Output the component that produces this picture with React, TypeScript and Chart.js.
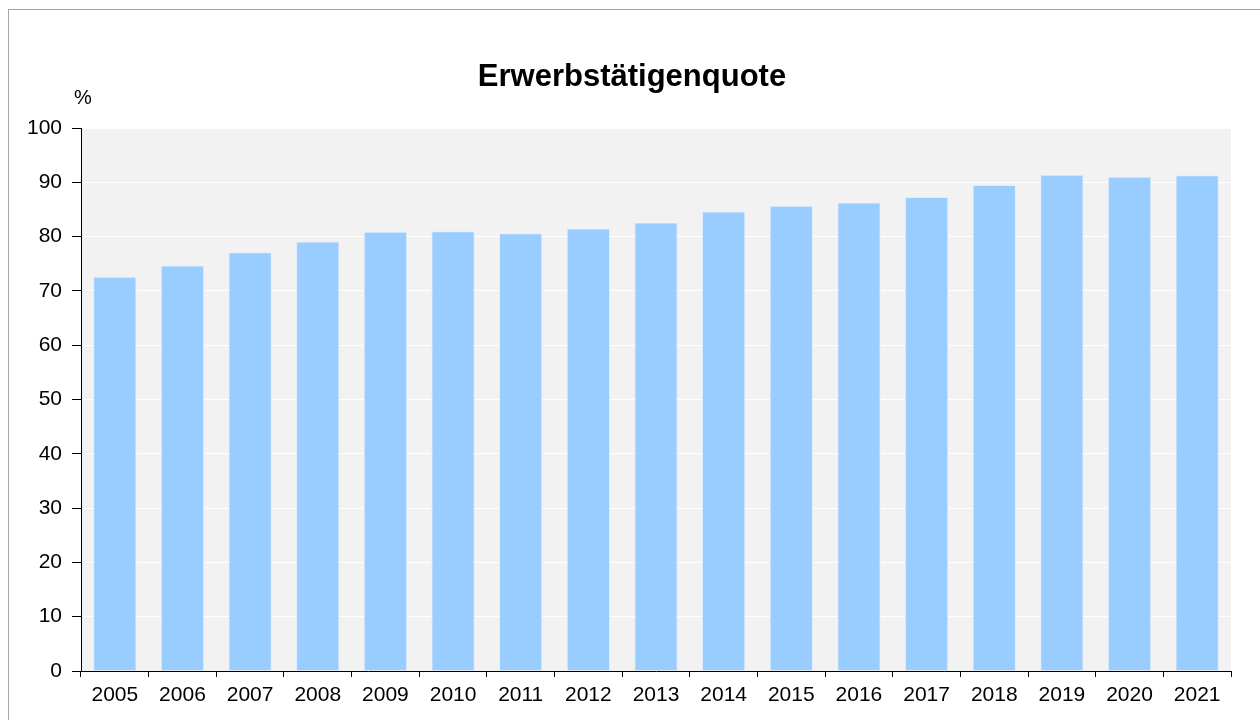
import React, { useEffect, useRef } from "react";
import { Chart, registerables } from "chart.js";

Chart.register(...registerables);

const years = ["2005", "2006", "2007", "2008", "2009", "2010", "2011", "2012", "2013", "2014", "2015", "2016", "2017", "2018", "2019", "2020", "2021"];
const quote = [72.6, 74.7, 77.1, 79.1, 80.9, 81.0, 80.6, 81.5, 82.6, 84.6, 85.7, 86.3, 87.3, 89.5, 91.4, 91.0, 91.3];
const titleText = "Erwerbstätigenquote";
const unitText = "%";

const FONT = "'Liberation Sans', Arial, sans-serif";

export default function App() {
  const ref = useRef<HTMLCanvasElement | null>(null);

  useEffect(() => {
    document.body.style.overflow = "hidden";
    const bgPlugin = {
      id: "bgPlugin",
      beforeDraw(chart: any) {
        const { ctx, chartArea } = chart;
        ctx.save();
        ctx.fillStyle = "#f2f2f2";
        ctx.fillRect(chartArea.left, chartArea.top, chartArea.right - chartArea.left, chartArea.bottom - chartArea.top);
        ctx.restore();
      },
      afterDraw(chart: any) {
        const { ctx } = chart;
        ctx.save();
        ctx.fillStyle = "#000";
        ctx.textAlign = "center";
        ctx.textBaseline = "alphabetic";
        ctx.font = `bold 31px ${FONT}`;
        ctx.fillText(titleText, 632, 86);
        ctx.font = `20px ${FONT}`;
        ctx.fillText(unitText, 83, 104);
        ctx.restore();
      },
    };
    const chart = new Chart(ref.current as HTMLCanvasElement, {
      type: "bar",
      data: {
        labels: years,
        datasets: [
          {
            data: quote,
            backgroundColor: "#99ccff",
            borderColor: "rgba(220,235,255,0.9)",
            borderWidth: 1,
            categoryPercentage: 1,
            barPercentage: 0.64,
          },
        ],
      },
      options: {
        animation: false,
        responsive: false,
        devicePixelRatio: 1,
        layout: { padding: { top: 128, right: 29, bottom: 0, left: 0 } },
        plugins: { legend: { display: false }, title: { display: false }, tooltip: { enabled: false } },
        scales: {
          x: {
            grid: { offset: true, drawOnChartArea: false, tickLength: 6, tickColor: "#000", color: "#000" },
            border: { color: "#000", width: 1 },
            ticks: { color: "#000", font: { family: FONT, size: 21 }, padding: 6, maxRotation: 0 },
            afterFit(scale: any) {
              scale.height = 49;
            },
          },
          y: {
            min: 0,
            max: 100,
            grid: { color: "#ffffff", lineWidth: 1, tickLength: 9, tickColor: "#000" },
            border: { color: "#000", width: 1 },
            ticks: { stepSize: 10, color: "#000", font: { family: FONT, size: 21 }, padding: 10 },
            afterFit(scale: any) {
              scale.width = 81;
            },
          },
        },
      },
      plugins: [bgPlugin],
    });
    return () => chart.destroy();
  }, []);

  return (
    <div>
      <div
        style={{
          position: "fixed",
          left: 8,
          top: 9,
          width: 1300,
          height: 800,
          border: "1px solid #a6a6a6",
          boxSizing: "border-box",
        }}
      />
      <canvas
        ref={ref}
        width={1260}
        height={720}
        style={{ position: "fixed", left: 0, top: 0, width: 1260, height: 720 }}
      />
    </div>
  );
}
